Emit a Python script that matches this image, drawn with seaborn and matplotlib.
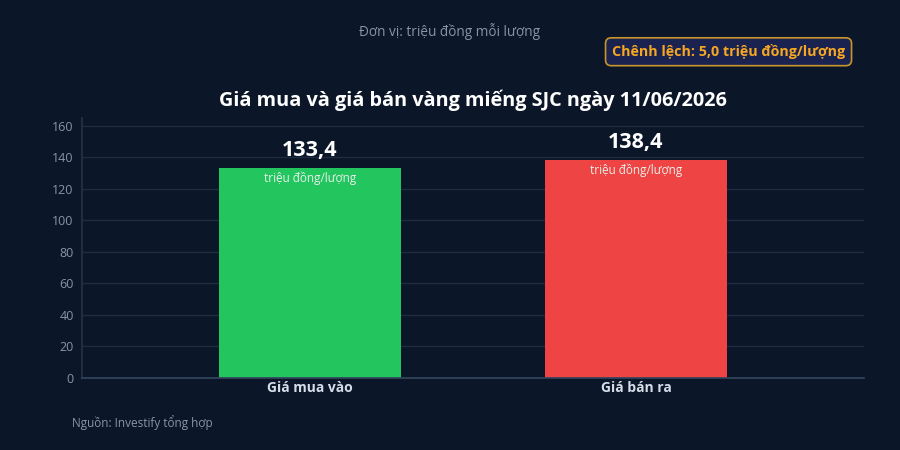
import numpy as np
import pandas as pd
import matplotlib
matplotlib.use('Agg')
import matplotlib.pyplot as plt
import seaborn as sns

# data
categories = ['Giá mua vào', 'Giá bán ra']
prices = [133.4, 138.4]
bar_colors = ['#22c55e', '#ef4444']
value_labels = ['133,4', '138,4']
unit_label = 'triệu đồng/lượng'
y_ticks = [0, 20, 40, 60, 80, 100, 120, 140, 160]

title = 'Giá mua và giá bán vàng miếng SJC ngày 11/06/2026'
unit_note = 'Đơn vị: triệu đồng mỗi lượng'
diff_note = 'Chênh lệch: 5,0 triệu đồng/lượng'
source_note = 'Nguồn: Investify tổng hợp'

bg = '#0b1628'
sns.set_theme(style='dark')
plt.rcParams['font.family'] = ['Open Sans', 'DejaVu Sans']

df = pd.DataFrame({'cat': categories, 'price': prices})

fig = plt.figure(figsize=(9, 4.5), dpi=100, facecolor=bg)
ax = fig.add_axes([0.091, 0.16, 0.869, 0.578])
ax.set_facecolor(bg)

sns.barplot(data=df, x='cat', y='price', hue='cat', palette=bar_colors,
            width=0.56, legend=False, ax=ax, saturation=1, linewidth=0)

ax.set_xlim(-0.7, 1.7)
ax.set_ylim(0, 165)
ax.set_yticks(y_ticks)
ax.yaxis.grid(True, color='#1e2b40', linewidth=1)
ax.set_axisbelow(True)
for s in ['top', 'right']:
    ax.spines[s].set_visible(False)
ax.spines['left'].set_color('#243247')
ax.spines['bottom'].set_color('#33445c')
ax.tick_params(axis='y', colors='#8a94a6', labelsize=9, length=0, pad=6)
ax.tick_params(axis='x', colors='#d5dde8', labelsize=10, length=0, pad=2)
for lab in ax.get_xticklabels():
    lab.set_fontweight('bold')
ax.set_xlabel('')
ax.set_ylabel('')

for i, (v, lab) in enumerate(zip(prices, value_labels)):
    ax.text(i, v + 4.5, lab, ha='center', va='bottom', color='white',
            fontsize=15.5, fontweight='bold')
    ax.text(i, v - 2.2, unit_label, ha='center', va='top', color='#e8f0ea',
            fontsize=8.5)

fig.text(0.525, 0.778, title, ha='center', va='center', color='white',
         fontsize=14.3, fontweight='bold')
fig.text(0.5, 0.931, unit_note, ha='center', va='center', color='#8a94a6',
         fontsize=9.8)
fig.text(0.939, 0.885, diff_note, ha='right', va='center', color='#f5a623',
         fontsize=10.3, fontweight='bold',
         bbox=dict(boxstyle='round,pad=0.45,rounding_size=0.4',
                   facecolor='#1a2350', edgecolor='#c8952a', linewidth=1.2))
fig.text(0.08, 0.06, source_note, ha='left', va='center', color='#8a94a6',
         fontsize=8.5)

fig.savefig('out.png', dpi=100, facecolor=bg)
